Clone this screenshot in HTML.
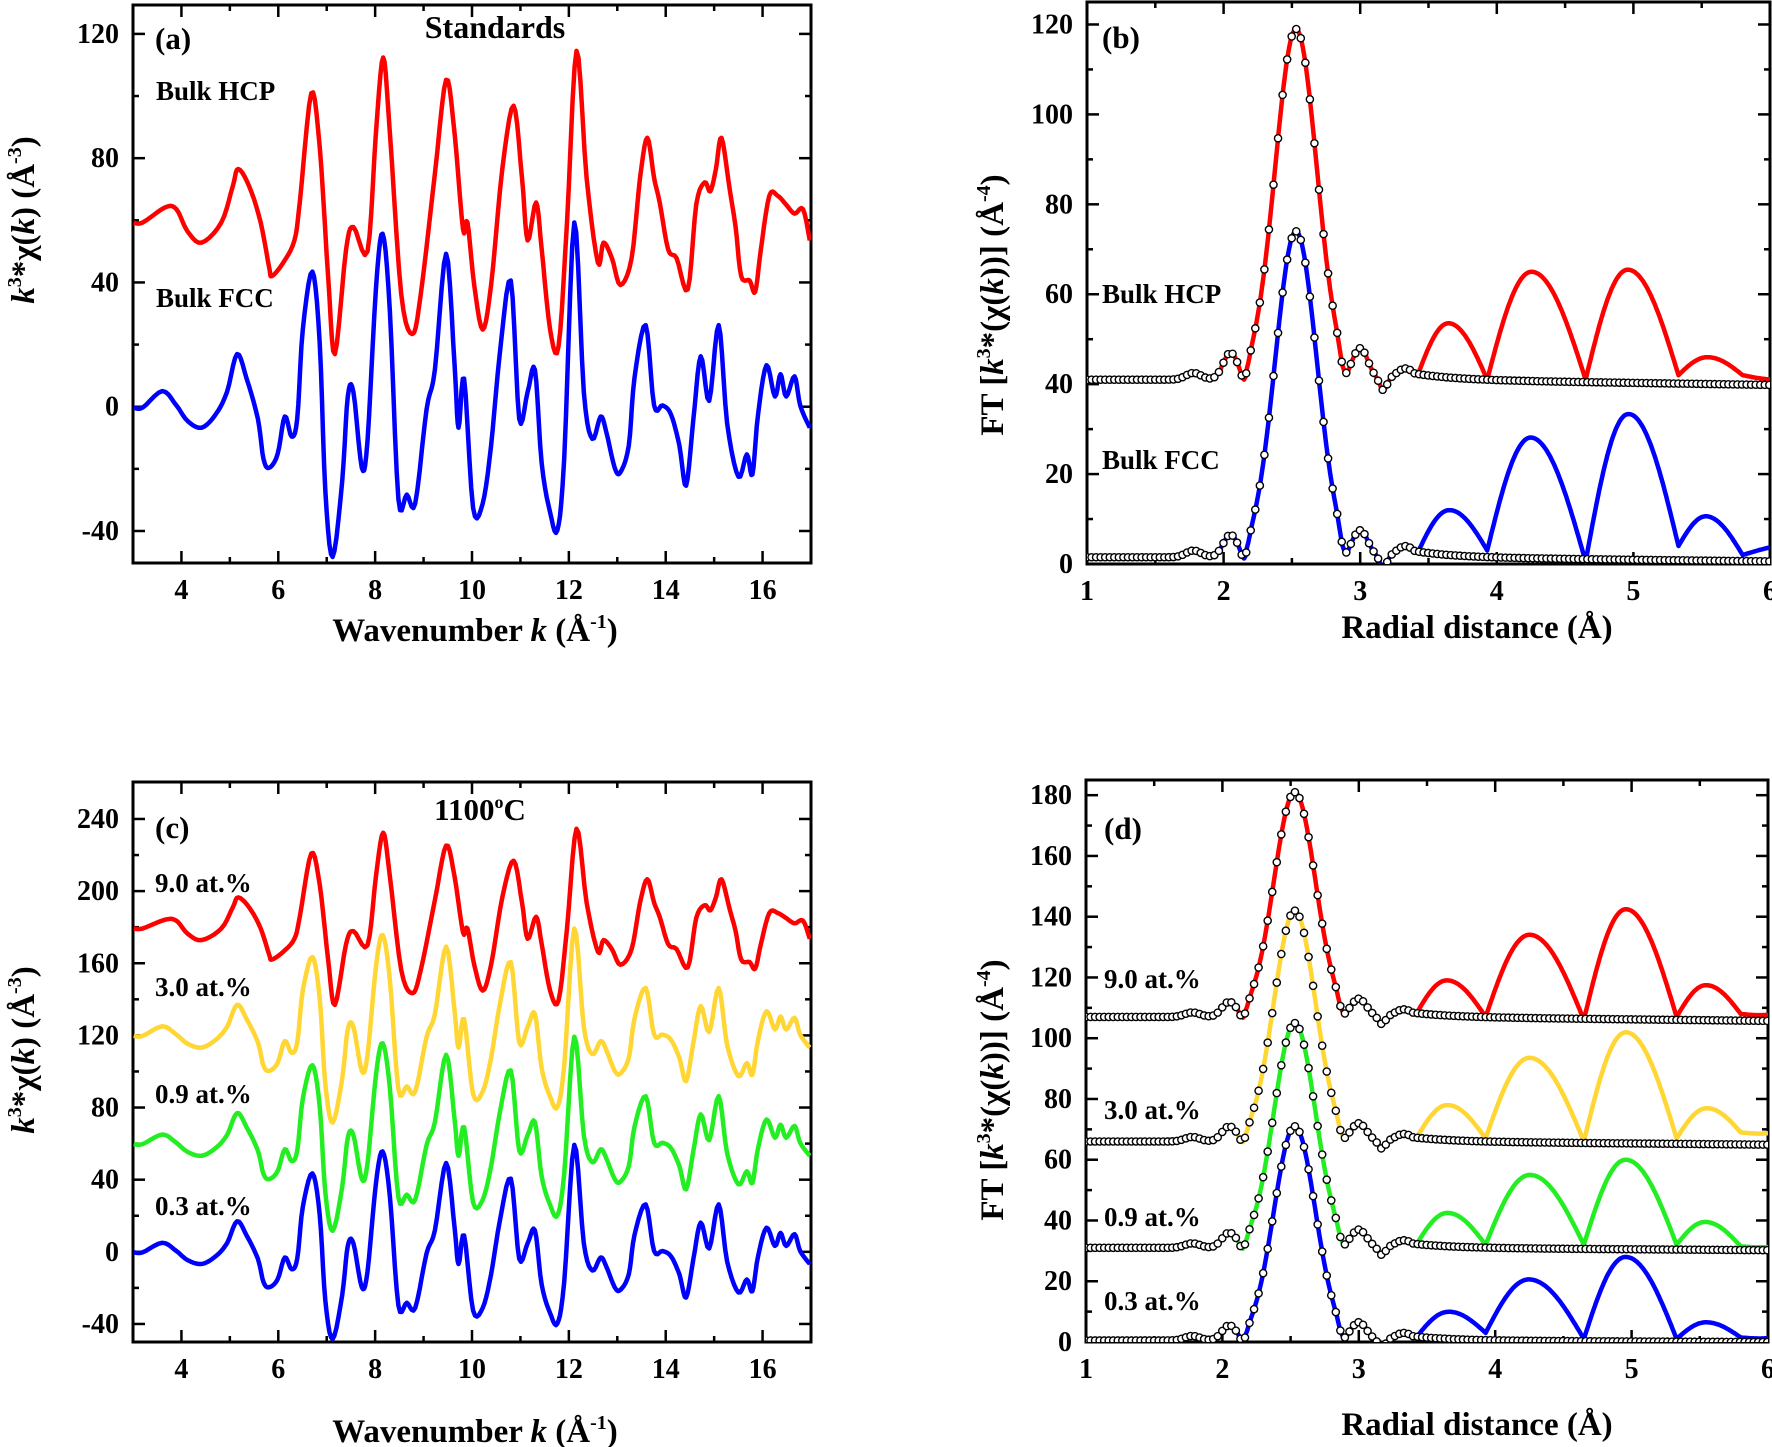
<!DOCTYPE html>
<html><head><meta charset="utf-8"><style>
html,body{margin:0;padding:0;background:#fff;}
svg{display:block;}
text{font-family:"Liberation Serif",serif;font-weight:bold;fill:#000;}
</style></head><body>
<svg id="s" xmlns="http://www.w3.org/2000/svg" width="1772" height="1447" viewBox="0 0 1772 1447">
<rect width="1772" height="1447" fill="#fff"/>
<defs>
<clipPath id="ca"><rect x="133" y="5" width="678" height="558"/></clipPath>
<clipPath id="cb"><rect x="1087" y="2" width="683" height="562"/></clipPath>
<clipPath id="cc"><rect x="133" y="782" width="678" height="560"/></clipPath>
<clipPath id="cd"><rect x="1086" y="780" width="682" height="562"/></clipPath>
</defs>
<g id="g"></g>
<g font-size="27">
<text x="155" y="49" font-size="31">(a)</text>
<text x="495" y="38" font-size="32" text-anchor="middle">Standards</text>
<text x="156" y="100">Bulk HCP</text>
<text x="156" y="307">Bulk FCC</text>
<text x="1102" y="48" font-size="31">(b)</text>
<text x="1102" y="303">Bulk HCP</text>
<text x="1102" y="469">Bulk FCC</text>
<text x="155" y="838" font-size="31">(c)</text>
<text x="480" y="820" font-size="31" text-anchor="middle">1100<tspan font-size="18" dy="-12">o</tspan><tspan dy="12">C</tspan></text>
<text x="155" y="892">9.0 at.%</text>
<text x="155" y="996">3.0 at.%</text>
<text x="155" y="1103">0.9 at.%</text>
<text x="155" y="1215">0.3 at.%</text>
<text x="1104" y="839" font-size="31">(d)</text>
<text x="1104" y="988">9.0 at.%</text>
<text x="1104" y="1119">3.0 at.%</text>
<text x="1104" y="1226">0.9 at.%</text>
<text x="1104" y="1310">0.3 at.%</text>
</g>
<g font-size="33">
<text x="475" y="641" text-anchor="middle">Wavenumber <tspan font-style="italic">k</tspan> (Å<tspan font-size="20" dy="-13">-1</tspan><tspan dy="13">)</tspan></text>
<text x="475" y="1442" text-anchor="middle">Wavenumber <tspan font-style="italic">k</tspan> (Å<tspan font-size="20" dy="-13">-1</tspan><tspan dy="13">)</tspan></text>
<text x="1477" y="638" text-anchor="middle">Radial distance (Å)</text>
<text x="1477" y="1435" text-anchor="middle">Radial distance (Å)</text>
<text transform="translate(34,220) rotate(-90)" text-anchor="middle"><tspan font-style="italic">k</tspan><tspan font-size="20" dy="-13">3</tspan><tspan dy="13">*χ(</tspan><tspan font-style="italic">k</tspan>) (Å<tspan font-size="20" dy="-13">-3</tspan><tspan dy="13">)</tspan></text>
<text transform="translate(34,1050) rotate(-90)" text-anchor="middle"><tspan font-style="italic">k</tspan><tspan font-size="20" dy="-13">3</tspan><tspan dy="13">*χ(</tspan><tspan font-style="italic">k</tspan>) (Å<tspan font-size="20" dy="-13">-3</tspan><tspan dy="13">)</tspan></text>
<text transform="translate(1003,305) rotate(-90)" text-anchor="middle">FT [<tspan font-style="italic">k</tspan><tspan font-size="20" dy="-13">3</tspan><tspan dy="13">*(χ(</tspan><tspan font-style="italic">k</tspan>))] (Å<tspan font-size="20" dy="-13">-4</tspan><tspan dy="13">)</tspan></text>
<text transform="translate(1003,1090) rotate(-90)" text-anchor="middle">FT [<tspan font-style="italic">k</tspan><tspan font-size="20" dy="-13">3</tspan><tspan dy="13">*(χ(</tspan><tspan font-style="italic">k</tspan>))] (Å<tspan font-size="20" dy="-13">-4</tspan><tspan dy="13">)</tspan></text>
</g>
</svg>
<script>
var NS="http://www.w3.org/2000/svg",G=document.getElementById('g');
function mk(t,a,p){var e=document.createElementNS(NS,t);for(var k in a)e.setAttribute(k,a[k]);(p||G).appendChild(e);return e;}
function P(L,R,T,B,x0,x1,y0,y1){return{L:L,R:R,T:T,B:B,X:function(x){return L+(x-x0)/(x1-x0)*(R-L)},Y:function(y){return B-(y-y0)/(y1-y0)*(B-T)}};}
var pa=P(133,811,5,563,3,17,-50.3,129.3),pc=P(133,811,782,1342,3,17,-50,260.5),
pb=P(1087,1770,2,564,1,6,0,125),pd=P(1086,1768,780,1342,1,6,0,185);
function axes(p,xs,xm,ys,ym){
 var gg=mk('g',{});
 xm.forEach(function(x){var X=p.X(x);mk('line',{x1:X,x2:X,y1:p.B,y2:p.B-6,stroke:'#000','stroke-width':2.5},gg);mk('line',{x1:X,x2:X,y1:p.T,y2:p.T+6,stroke:'#000','stroke-width':2.5},gg);});
 ym.forEach(function(y){var Y=p.Y(y);mk('line',{x1:p.L,x2:p.L+6,y1:Y,y2:Y,stroke:'#000','stroke-width':2.5},gg);mk('line',{x1:p.R,x2:p.R-6,y1:Y,y2:Y,stroke:'#000','stroke-width':2.5},gg);});
 xs.forEach(function(x){var X=p.X(x);mk('line',{x1:X,x2:X,y1:p.B,y2:p.B-12,stroke:'#000','stroke-width':2.5},gg);mk('line',{x1:X,x2:X,y1:p.T,y2:p.T+12,stroke:'#000','stroke-width':2.5},gg);
  var t=mk('text',{x:X,y:p.B+36,'text-anchor':'middle','font-size':28},gg);t.textContent=x;});
 ys.forEach(function(y){var Y=p.Y(y);mk('line',{x1:p.L,x2:p.L+12,y1:Y,y2:Y,stroke:'#000','stroke-width':2.5},gg);mk('line',{x1:p.R,x2:p.R-12,y1:Y,y2:Y,stroke:'#000','stroke-width':2.5},gg);
  var t=mk('text',{x:p.L-14,y:Y+9,'text-anchor':'end','font-size':28},gg);t.textContent=y;});
 mk('rect',{x:p.L,y:p.T,width:p.R-p.L,height:p.B-p.T,fill:'none',stroke:'#000','stroke-width':3},gg);
}
function line(p,pts,col,clip,w){var d=pts.map(function(q,i){return(i?'L':'M')+p.X(q[0]).toFixed(1)+','+p.Y(q[1]).toFixed(1)}).join('');
 mk('path',{d:d,fill:'none',stroke:col,'stroke-width':w||4.5,'stroke-linejoin':'round','clip-path':'url(#'+clip+')'});}
var red=[[234,500],[250,500],[290,466],[310,470],[330,520],[355,545],[390,500],[410,420],[420,380],[440,420],[460,500],[475,600],[480,620],[500,590],[520,540],[530,450],[550,210],[565,330],[580,620],[592,795],[612,560],[625,510],[650,565],[665,300],[678,130],[690,300],[710,660],[730,750],[745,660],[770,390],[790,180],[805,300],[820,515],[828,500],[840,640],[855,740],[870,640],[890,380],[910,238],[925,400],[935,540],[950,455],[960,560],[975,740],[990,778],[1005,500],[1022,115],[1040,400],[1060,590],[1070,545],[1085,580],[1100,640],[1120,580],[1135,400],[1148,310],[1160,400],[1170,455],[1185,560],[1200,580],[1220,650],[1235,460],[1250,410],[1260,430],[1270,380],[1280,310],[1295,430],[1305,510],[1315,620],[1330,630],[1340,655],[1350,560],[1365,440],[1380,440],[1395,460],[1410,480],[1425,470],[1437,540]];
var blue=[[234,915],[250,915],[285,878],[310,910],[330,945],[355,960],[380,930],[400,880],[418,795],[435,850],[455,940],[465,1030],[475,1050],[490,1020],[503,935],[515,980],[525,940],[535,740],[552,610],[565,770],[575,1100],[588,1250],[605,1080],[615,890],[625,880],[640,1050],[650,990],[665,650],[677,525],[690,700],[705,1120],[720,1110],[735,1130],[755,920],[770,830],[790,570],[805,820],[812,960],[822,850],[838,1140],[855,1130],[870,1000],[885,800],[905,630],[920,940],[935,880],[948,830],[960,1040],[975,1150],[988,1190],[1000,1030],[1018,500],[1035,880],[1050,985],[1065,935],[1075,970],[1090,1050],[1100,1060],[1115,1000],[1125,850],[1145,730],[1160,910],[1175,910],[1190,930],[1205,1000],[1217,1090],[1230,940],[1243,800],[1258,900],[1275,730],[1290,950],[1310,1070],[1325,1020],[1335,1065],[1345,930],[1360,820],[1375,890],[1385,840],[1395,890],[1410,845],[1420,910],[1437,960]];
function conv(a,off){return a.map(function(q){return[4+(q[0]-319)/86.17,(913-q[1])/6.967+off]});}
function smooth(a){var o=[];for(var i=0;i<a.length-1;i++){var p0=a[Math.max(0,i-1)],p1=a[i],p2=a[i+1],p3=a[Math.min(a.length-1,i+2)];
 for(var t=0;t<1;t+=0.2){var t2=t*t,t3=t2*t;o.push([0,1].map(function(j){return 0.5*((2*p1[j])+(-p0[j]+p2[j])*t+(2*p0[j]-5*p1[j]+4*p2[j]-p3[j])*t2+(-p0[j]+3*p1[j]-3*p2[j]+p3[j])*t3)}));}}
 o.push(a[a.length-1]);return o;}
axes(pa,[4,6,8,10,12,14,16],[3,5,7,9,11,13,15,17],[-40,0,40,80,120],[-20,20,60,100]);
line(pa,smooth(conv(red,0)),'#ff0000','ca');line(pa,smooth(conv(blue,0)),'#0000ff','ca');
axes(pc,[4,6,8,10,12,14,16],[3,5,7,9,11,13,15,17],[-40,0,40,80,120,160,200,240],[-20,20,60,100,140,180,220]);
line(pc,smooth(conv(red,120)),'#ff0000','cc');line(pc,smooth(conv(blue,120)),'#ffd633','cc');
line(pc,smooth(conv(blue,60)),'#22ee22','cc');line(pc,smooth(conv(blue,0)),'#0000ff','cc');
function gs(r,c,w){return Math.exp(-Math.pow((r-c)/w,2));}
function near(r,b,pk,s){var A=pk-b;var m=gs(r,2.53,0.215);if(Math.abs(r-2.53)>0.36)m*=Math.exp(-(Math.abs(r-2.53)-0.36)/0.03);
 return b+A*m+s*gs(r,2.05,0.075)+(s+1)*gs(r,3.0,0.08)
 +1.5*gs(r,1.78,0.08)+2.5*gs(r,3.33,0.09)-3*gs(r,2.16,0.035)-4*gs(r,2.88,0.035)-2.5*gs(r,3.17,0.035);}
function farf(r,segs){for(var i=0;i<segs.length;i++){var g=segs[i];if(r>=g[0]&&r<=g[2]){var t=(r-g[0])/(g[2]-g[0]);var base=g[1]+(g[3]-g[1])*t;
 var tt=t<0.45?t/0.45*0.5:0.5+(t-0.45)/0.55*0.5;return base+(g[4]-(g[1]+g[3])/2)*Math.sin(Math.PI*tt);}}return segs[segs.length-1][3];}
function ft(p,clip,col,b,pk,s,m,h,tail){
 var x0=3.42,xs=[x0,3.93,4.65,5.33,5.8,6.3],segs=[];m[0]=near(x0,b,pk,s);
 for(var i=0;i<5;i++)segs.push([xs[i],m[i],xs[i+1],m[i+1],h[i]]);
 var L=[];for(var r=1;r<=6.001;r+=0.01){L.push([r,r<x0?near(r,b,pk,s):farf(r,segs)]);}
 line(p,L,col,clip);
 var r0=3.4,c0=near(r0,b,pk,s);
 for(var r=1;r<=6.001;r+=0.0333){var v=r<r0?near(r,b,pk,s):b+(c0-b)*Math.exp(-(r-r0)/0.3)-tail*(r-r0);
  mk('circle',{cx:p.X(r),cy:p.Y(v),r:3.6,fill:'#fff',stroke:'#000','stroke-width':1.4,'clip-path':'url(#'+clip+')'});}
}
axes(pb,[1,2,3,4,5,6],[1.5,2.5,3.5,4.5,5.5],[0,20,40,60,80,100,120],[10,30,50,70,90,110]);
ft(pb,'cb','#ff0000',41,119,6,[0,41,41,42,42,41.5],[53.5,65,65.5,46,41],0.45);
ft(pb,'cb','#0000ff',1.5,74,5,[0,3,0.5,4,2,5],[12,28,33.5,10.5,4],0.35);
axes(pd,[1,2,3,4,5,6],[1.5,2.5,3.5,4.5,5.5],[0,20,40,60,80,100,120,140,160,180],[10,30,50,70,90,110,130,150,170]);
ft(pd,'cd','#ff0000',107,181,5,[0,107,106,107,108,111],[119,134,142.5,117.5,108],0.5);
ft(pd,'cd','#ffd633',66,142,5,[0,67,66,67,69,72],[78,93.5,102,77,69],0.4);
ft(pd,'cd','#22ee22',31,105,5,[0,32,32,32,31.5,34],[42.5,55,60,39.5,31.5],0.3);
ft(pd,'cd','#0000ff',0.5,71,5,[0,3,1,1,1.5,4],[10,20.5,28,6.5,1.5],0.2);
</script>
</body></html>
